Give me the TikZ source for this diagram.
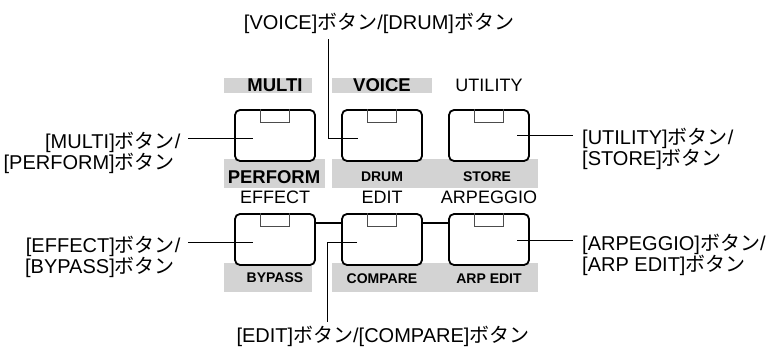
\documentclass[tikz,border=0pt]{standalone}
\usepackage{fontspec}
\setmainfont{Liberation Sans}
\newfontfamily\jpfont{Noto Sans CJK JP}
\newcommand\btn{{\jpfont ボタン}}
\usetikzlibrary{calc}
\definecolor{bandgray}{RGB}{211,211,211}
\begin{document}
\begin{tikzpicture}[x=1pt,y=-1pt,
  btnbox/.style={draw=black, line width=1.8pt, rounded corners=5pt, fill=white,
    minimum width=80pt, minimum height=51pt, inner sep=0pt},
  callout/.style={font=\fontsize{20}{17.5}\selectfont, inner sep=0pt},
  boldlbl/.style={font=\fontsize{18.5}{18.5}\selectfont\bfseries, inner sep=0pt},
  reglbl/.style={font=\fontsize{18}{18}\selectfont, inner sep=0pt},
  smalllbl/.style={font=\fontsize{14}{14}\selectfont\bfseries, inner sep=0pt},
  leader/.style={line width=0.9pt},
  link/.style={line width=2.4pt},
  ledbox/.style={draw=black!70, line width=0.8pt}
]
\useasboundingbox (0,0) rectangle (769,347);
% gray bands
\fill[bandgray] (224,78) rectangle (312,93);
\fill[bandgray] (332,78) rectangle (432,93);
\fill[bandgray] (224,159) rectangle (325,188);
\fill[bandgray] (332,159) rectangle (538,188);
\fill[bandgray] (224,263) rectangle (312,292);
\fill[bandgray] (332,263) rectangle (538,292);
% buttons
\node[btnbox] (b1) at (275,135.5) {};
\node[btnbox] (b2) at (382,135.5) {};
\node[btnbox] (b3) at (489,135.5) {};
\node[btnbox] (b4) at (275,239.5) {};
\node[btnbox] (b5) at (382,239.5) {};
\node[btnbox] (b6) at (489,239.5) {};
\foreach \b in {b1,b2,b3,b4,b5,b6}
  \draw[ledbox] ($(\b.north)+(-14.5,0)$) -- ++(0,13) -- ++(29,0) -- ++(0,-13);
% links between row-2 buttons
\draw[link] ([yshift=-10pt]b4.north east) -- ([yshift=-10pt]b5.north west);
\draw[link] ([yshift=-10pt]b5.north east) -- ([yshift=-10pt]b6.north west);
% panel labels
\node[boldlbl] (lmulti) at (275,85.5) {MULTI};
\node[boldlbl] (lvoice) at (382,85.5) {VOICE};
\node[reglbl] (lutil) at (489,85) {UTILITY};
\node[boldlbl] (lperf) at (274,177) {PERFORM};
\node[smalllbl] (ldrum) at (382,177) {DRUM};
\node[smalllbl] (lstore) at (487,177) {STORE};
\node[reglbl] (leffect) at (275,197) {EFFECT};
\node[reglbl] (ledit) at (382,197) {EDIT};
\node[reglbl] (larp) at (489,197) {ARPEGGIO};
\node[smalllbl] (lbyp) at (275,278) {BYPASS};
\node[smalllbl] (lcomp) at (382,279) {COMPARE};
\node[smalllbl] (larpe) at (489,279) {ARP EDIT};
% callout texts
\node[callout, align=right, anchor=base east] (tmulti) at (175,170) {[MULTI]\btn\rlap{/}\\{}[PERFORM]\btn};
\node[callout, align=right, anchor=base east] (teffect) at (175,274) {[EFFECT]\btn\rlap{/}\\{}[BYPASS]\btn};
\node[callout, align=left, anchor=base west] (tutil) at (582,166) {[UTILITY]\btn/\\{}[STORE]\btn};
\node[callout, align=left, anchor=base west] (tarp) at (582,272) {[ARPEGGIO]\btn/\\{}[ARP EDIT]\btn};
\node[callout, anchor=base] (ttop) at (379,30) {[VOICE]\btn/[DRUM]\btn};
\node[callout, anchor=base] (tbot) at (383,343) {[EDIT]\btn/[COMPARE]\btn};
% leader points
\coordinate (pm) at ($(b1.center)+(-22,2.5)$);
\coordinate (pv) at ($(b2.center)+(-24,2.5)$);
\coordinate (vk) at ($(pv)+(-30,0)$);
\coordinate (pu) at ($(b3.center)+(28,-0.5)$);
\coordinate (pe) at ($(b4.center)+(-22,2.5)$);
\coordinate (pc) at ($(b5.center)+(-25,2.5)$);
\coordinate (ck) at ($(pc)+(-30,0)$);
\coordinate (pa) at ($(b6.center)+(28,0.5)$);
% leaders
\draw[leader] ([xshift=13pt]tmulti.east |- pm) -- (pm);
\draw[leader] ([xshift=13pt]teffect.east |- pe) -- (pe);
\draw[leader] (pu) -- ([xshift=-9pt]tutil.west |- pu);
\draw[leader] (pa) -- ([xshift=-9pt]tarp.west |- pa);
\draw[leader] ([yshift=-5pt]ttop.south -| vk) -- (vk) -- (pv);
\draw[leader] (pc) -- (ck) -- ([yshift=4pt]tbot.north -| ck);
\end{tikzpicture}
\end{document}
